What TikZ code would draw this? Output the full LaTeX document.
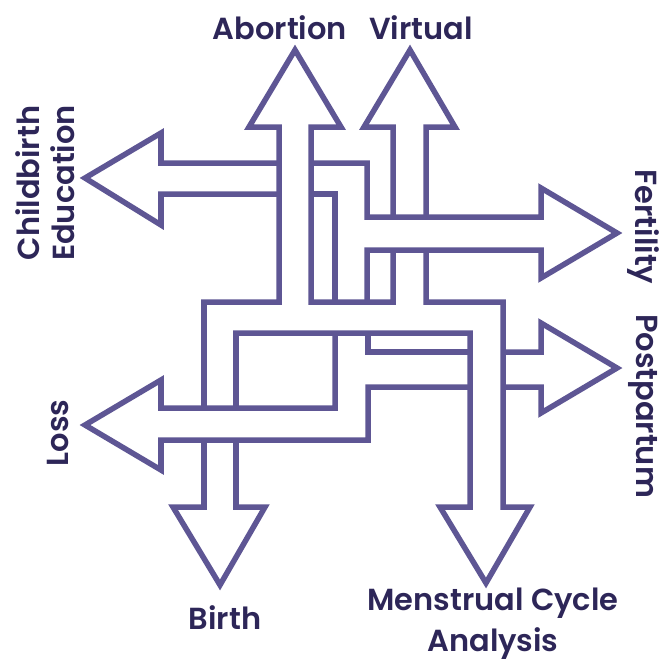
\documentclass[tikz,border=0pt]{standalone}
\usepackage{fontspec}
\usepackage{tikz}
\newfontfamily\labelfont{Poppins SemiBold}
\definecolor{bandpurple}{RGB}{94, 86, 148}
\definecolor{labelink}{RGB}{45, 38, 88}

\begin{document}
\begin{tikzpicture}[
  x=0.03cm, y=-0.03cm,
  band/.style={draw=bandpurple, line width=4.7pt, line join=miter},
  lbl/.style={font=\labelfont\fontsize{26}{30}\selectfont, text=labelink, inner sep=0pt},
]
\useasboundingbox (0, 0) rectangle (670, 663);

% Bridge band: Birth, Abortion, Virtual, Menstrual
\draw[band] (204, 408) -- (204, 302) -- (279, 302) -- (279, 127) -- (249, 127) -- (295, 50) -- (341, 127) -- (311, 127) -- (311, 302) -- (393, 302) -- (393, 250);
\draw[band] (393, 217) -- (393, 127) -- (364, 127) -- (410, 50) -- (455, 127) -- (426, 127) -- (426, 217);
\draw[band] (426, 250) -- (426, 302) -- (503, 302) -- (503, 507) -- (530, 507) -- (486, 583) -- (440, 507) -- (470, 507) -- (470, 333) -- (236, 333) -- (236, 408);
\draw[band] (204, 440) -- (204, 507) -- (173, 507) -- (220, 585) -- (265, 507) -- (236, 507) -- (236, 440);

% Cross band: Childbirth Education, Fertility, Loss, Postpartum
\draw[band] (279, 163) -- (161, 163) -- (161, 133) -- (85, 178) -- (161, 225) -- (161, 194) -- (279, 194);
\draw[band] (311, 163) -- (367, 163) -- (367, 217) -- (541, 217) -- (541, 188) -- (617, 233) -- (541, 278) -- (541, 250) -- (367, 250) -- (367, 302);
\draw[band] (311, 194) -- (335, 194) -- (335, 302);
\draw[band] (335, 333) -- (335, 408) -- (161, 408) -- (161, 380) -- (85, 425) -- (161, 470) -- (161, 440) -- (368, 440) -- (368, 387) -- (470, 387);
\draw[band] (368, 333) -- (368, 352) -- (470, 352);
\draw[band] (503, 352) -- (541, 352) -- (541, 323) -- (617, 368) -- (541, 413) -- (541, 387) -- (503, 387);

% Labels
\node[lbl] (abortion) at (280, 28) {Abortion};
\node[lbl] (virtual) at (421, 28) {Virtual};
\node[lbl, rotate=90, align=center] (childbirth) at (45, 183) {Childbirth\\Education};
\node[lbl, rotate=90] (loss) at (58, 433) {Loss};
\node[lbl, rotate=-90] (fertility) at (643, 227) {Fertility};
\node[lbl, rotate=-90] (postpartum) at (643, 406) {Postpartum};
\node[lbl] (birth) at (225, 618) {Birth};
\node[lbl, align=center, anchor=north, font=\labelfont\fontsize{26}{35}\selectfont] (menstrual) at (493, 588) {Menstrual Cycle\\Analysis};
\end{tikzpicture}
\end{document}
